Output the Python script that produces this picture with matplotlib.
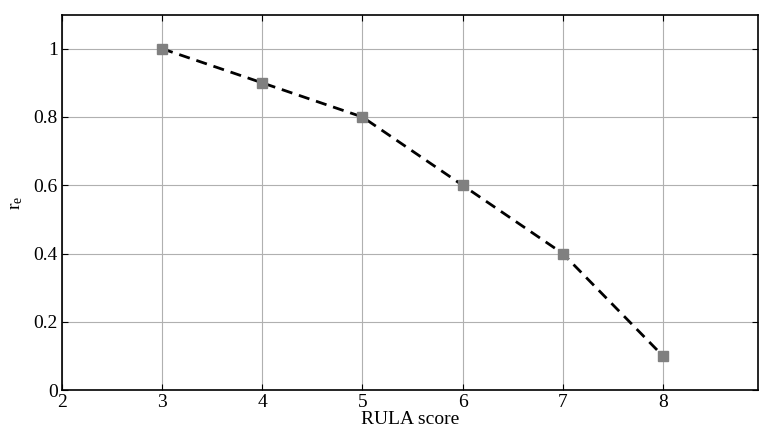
import matplotlib
matplotlib.use("Agg")
import matplotlib.pyplot as plt

rula_score = [3, 4, 5, 6, 7, 8]
r_e = [1.0, 0.9, 0.8, 0.6, 0.4, 0.1]
x_ticks = [2, 3, 4, 5, 6, 7, 8]
y_ticks = [0, 0.2, 0.4, 0.6, 0.8, 1]

plt.rcParams['font.family'] = ['Liberation Serif', 'DejaVu Serif']
plt.rcParams['mathtext.fontset'] = 'stix'

fig = plt.figure(figsize=(7.59, 4.3), dpi=100)
ax = fig.add_axes([0.0817, 0.093, 0.917, 0.873])

ax.plot(rula_score, r_e, color='black', linestyle='--', linewidth=2,
        dashes=(4, 2.5), zorder=3)
ax.plot(rula_score, r_e, linestyle='none', marker='s', markersize=7,
        color='#808080', zorder=4)

ax.set_xlim(2, 8.95)
ax.set_ylim(0, 1.1)
ax.set_xticks(x_ticks)
ax.set_yticks(y_ticks)
ax.set_yticklabels(['0', '0.2', '0.4', '0.6', '0.8', '1'])
ax.grid(True, color='#b0b0b0', linewidth=0.8)
ax.tick_params(direction='in', length=4, top=True, right=True, labelsize=14, pad=3)
for s in ax.spines.values():
    s.set_linewidth(1.2)

ax.set_xlabel('RULA score', fontsize=14, labelpad=0)
ax.set_ylabel(r'r$_\mathregular{e}$', fontsize=14, labelpad=6)

fig.savefig('out.png', dpi=100)
